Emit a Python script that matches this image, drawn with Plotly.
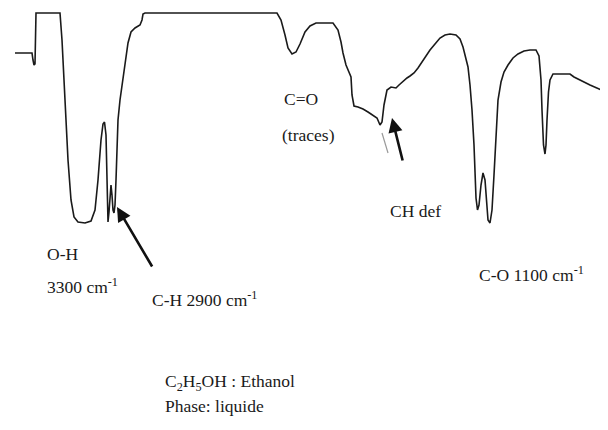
import plotly.graph_objects as go

# IR spectrum of ethanol (liquid)
wavenumber = [4000, 3898, 3892, 3886, 3880, 3877, 3874, 3730, 3718, 3700, 3682, 3664, 3646, 3622, 3580,
              3544, 3520, 3502, 3484, 3472, 3463, 3454, 3448, 3442, 3436, 3430, 3424, 3418, 3412, 3406,
              3400, 3394, 3388, 3382, 3370, 3358, 3340, 3322, 3304, 3280, 3250, 3238, 3232, 3220, 2428,
              2404, 2380, 2362, 2338, 2314, 2290, 2260, 2230, 2194, 2092, 2062, 2044, 2032, 2014, 2002,
              1984, 1978, 1966, 1942, 1912, 1882, 1852, 1828, 1810, 1798, 1786, 1768, 1744, 1714, 1696,
              1672, 1648, 1630, 1606, 1582, 1558, 1534, 1510, 1480, 1450, 1420, 1390, 1354, 1330, 1312,
              1294, 1282, 1270, 1258, 1246, 1240, 1234, 1225, 1216, 1204, 1192, 1180, 1171, 1162, 1150,
              1138, 1126, 1114, 1102, 1084, 1066, 1042, 1012, 982, 946, 910, 874, 856, 844, 838,
              829, 820, 814, 808, 799, 790, 772, 670, 646, 550, 442]
transmittance = [84.0, 84.0, 81.2, 79.2, 79.6, 89.2, 100.0, 100.0, 89.2, 65.2, 41.2, 25.2, 18.4, 16.4, 16.0,
                 16.8, 21.2, 33.2, 49.2, 55.6, 56.4, 51.2, 35.2, 16.4, 20.4, 28.4, 31.2, 27.2, 21.2, 20.0,
                 23.2, 33.2, 45.2, 57.2, 65.2, 71.2, 78.4, 88.0, 92.4, 94.0, 95.2, 97.2, 99.6, 100.0, 100.0,
                 97.2, 91.2, 86.0, 83.6, 84.4, 87.6, 92.4, 94.8, 96.0, 96.0, 93.2, 88.4, 84.0, 79.2, 77.2,
                 74.4, 67.2, 62.8, 62.4, 61.6, 60.4, 59.2, 58.0, 55.2, 56.4, 63.2, 69.2, 70.4, 70.0, 71.2,
                 72.8, 74.0, 74.8, 76.0, 78.0, 80.4, 83.2, 85.2, 87.6, 90.0, 91.2, 91.6, 91.2, 89.6, 86.4,
                 82.0, 78.4, 71.2, 61.2, 47.2, 37.2, 26.0, 21.2, 23.2, 31.2, 36.0, 33.2, 23.2, 17.2, 16.0,
                 21.2, 35.2, 53.2, 65.2, 72.4, 76.4, 79.2, 82.0, 83.6, 84.8, 85.2, 85.2, 82.8, 73.2, 61.2,
                 47.2, 43.6, 47.2, 57.2, 68.4, 73.2, 75.6, 75.6, 74.4, 71.2, 68.0]

# faint trace fragment below the CH def band
faint_wn = [1798, 1762]
faint_t = [52.0, 44.0]

labels = ["O-H", "3300 cm<sup>-1</sup>", "C-H 2900 cm<sup>-1</sup>", "C=O", "(traces)", "CH def",
          "C-O 1100 cm<sup>-1</sup>", "C<sub>2</sub>H<sub>5</sub>OH : Ethanol", "Phase: liquide"]
label_wn = [3820, 3820, 3190, 2398, 2410, 1762, 1228, 3110, 3110]
label_t = [3.6, -9.2, -14.4, 65.6, 51.2, 20.8, -4.4, -47.6, -57.2]

fig = go.Figure()
fig.add_trace(go.Scatter(x=wavenumber, y=transmittance, mode="lines",
                         line=dict(color="#1a1a1a", width=1.6), hoverinfo="skip"))
fig.add_trace(go.Scatter(x=faint_wn, y=faint_t, mode="lines",
                         line=dict(color="#9a9a9a", width=1.2), hoverinfo="skip"))

for txt, xw, yt in zip(labels, label_wn, label_t):
    fig.add_annotation(x=xw, y=yt, text=txt, showarrow=False, xanchor="left", yanchor="middle",
                       font=dict(family="Liberation Serif", size=17.5, color="#1a1a1a"))

# arrows
fig.add_annotation(x=3388, y=22.4, ax=3172, ay=-2.0, axref="x", ayref="y", text="",
                   showarrow=True, arrowhead=2, arrowsize=1.1, arrowwidth=2.6, arrowcolor="#111111")
fig.add_annotation(x=1738, y=58.0, ax=1672, ay=40.4, axref="x", ayref="y", text="",
                   showarrow=True, arrowhead=2, arrowsize=1.1, arrowwidth=2.6, arrowcolor="#111111")

# page body has an 8px default margin, so the figure is 600x422 to fill the 608x430 window
fig.update_layout(
    width=600, height=422,
    margin=dict(l=0, r=0, t=0, b=0),
    paper_bgcolor="white", plot_bgcolor="white",
    showlegend=False,
    xaxis=dict(range=[4042, 442], visible=False, fixedrange=True),
    yaxis=dict(range=[-66.8, 102.0], visible=False, fixedrange=True),
)

fig.write_html("out.html")
